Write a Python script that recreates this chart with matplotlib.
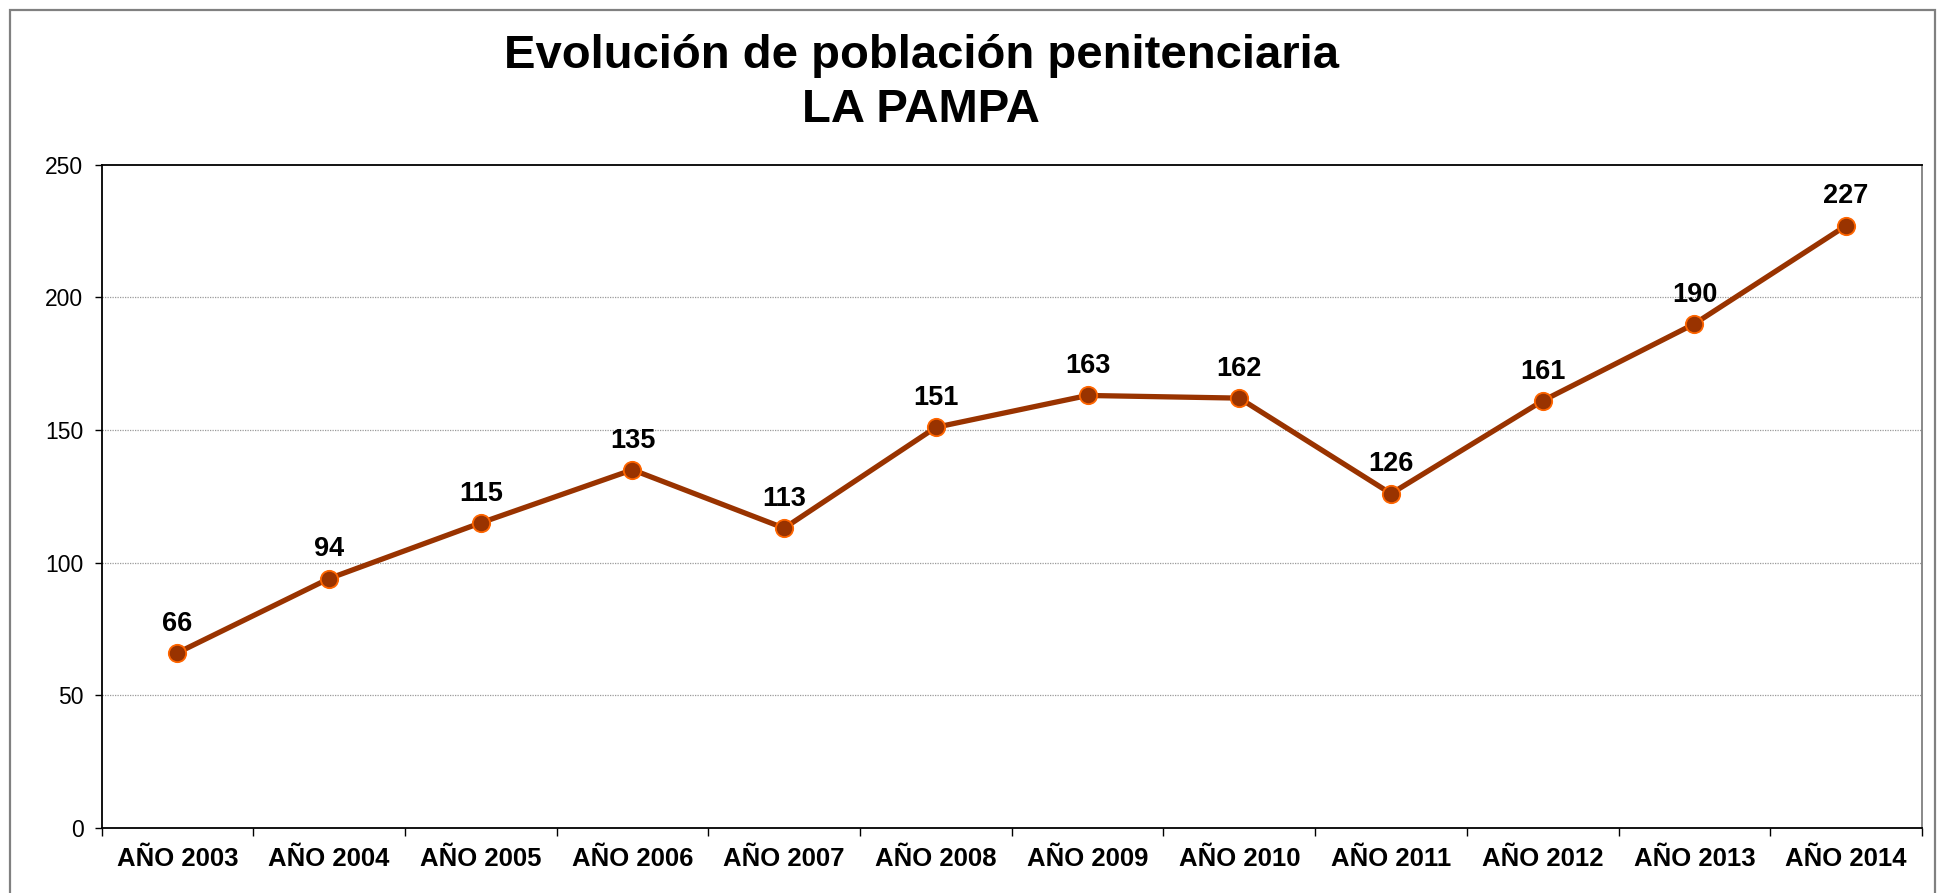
import matplotlib
matplotlib.use("Agg")
import matplotlib.pyplot as plt
from matplotlib.patches import Rectangle
import numpy as np

plt.rcParams['font.family'] = ['Liberation Sans', 'DejaVu Sans']

categories = ["AÑO 2003", "AÑO 2004", "AÑO 2005", "AÑO 2006", "AÑO 2007", "AÑO 2008",
              "AÑO 2009", "AÑO 2010", "AÑO 2011", "AÑO 2012", "AÑO 2013", "AÑO 2014"]
values = [66, 94, 115, 135, 113, 151, 163, 162, 126, 161, 190, 227]
yticks = [0, 50, 100, 150, 200, 250]
title_line1 = "Evolución de población penitenciaria"
title_line2 = "LA PAMPA"

W, H = 1941, 893
fig = plt.figure(figsize=(W / 100, H / 100), dpi=100)
fig.patch.set_facecolor("white")

# outer chart border
fig.add_artist(Rectangle((10 / W, -0.05), (1935 - 10) / W, 1 + 0.05 - 10 / H,
                         transform=fig.transFigure, fill=False,
                         edgecolor="#808080", linewidth=1.6))

ax = fig.add_axes([101.5 / W, 1 - 828 / H, (1922 - 101.5) / W, (828 - 164.6) / H])

x = np.arange(len(categories))
ax.plot(x, values, color="#993300", linewidth=3.8, marker="o", markersize=12.5,
        markerfacecolor="#993300", markeredgecolor="#FF6600", markeredgewidth=1.3,
        zorder=3)

for xi, v in zip(x, values):
    ax.annotate(str(v), (xi, v), xytext=(0, 21), textcoords="offset points",
                ha="center", va="center", fontsize=19.5, fontweight="bold", color="black")

ax.set_xlim(-0.5, len(categories) - 0.5)
ax.set_ylim(0, 250)
ax.set_yticks(yticks)
ax.set_yticklabels([str(t) for t in yticks], fontsize=16.5)
ax.set_xticks(x)
ax.set_xticklabels(categories, fontsize=18.5, fontweight="bold")
ax.set_xticks(np.arange(-0.5, len(categories)), minor=True)
ax.tick_params(axis="x", which="major", length=0, pad=14)
ax.tick_params(axis="x", which="minor", length=6, width=1, direction="out", color="black")
ax.tick_params(axis="y", length=5, width=1, direction="out", pad=8)

for t in [50, 100, 150, 200]:
    ax.axhline(t, color="#9a9a9a", linewidth=0.9, linestyle=(0, (1, 1)), zorder=1)

for side in ["left", "bottom", "top"]:
    ax.spines[side].set_color("black")
    ax.spines[side].set_linewidth(1.3)
ax.spines["right"].set_color("#808080")
ax.spines["right"].set_linewidth(1.3)

fig.text(921 / W, 1 - 56 / H, title_line1, ha="center", va="center",
         fontsize=34, fontweight="bold")
fig.text(921 / W, 1 - 110 / H, title_line2, ha="center", va="center",
         fontsize=34, fontweight="bold")

fig.savefig("out.png", dpi=100, facecolor="white")
